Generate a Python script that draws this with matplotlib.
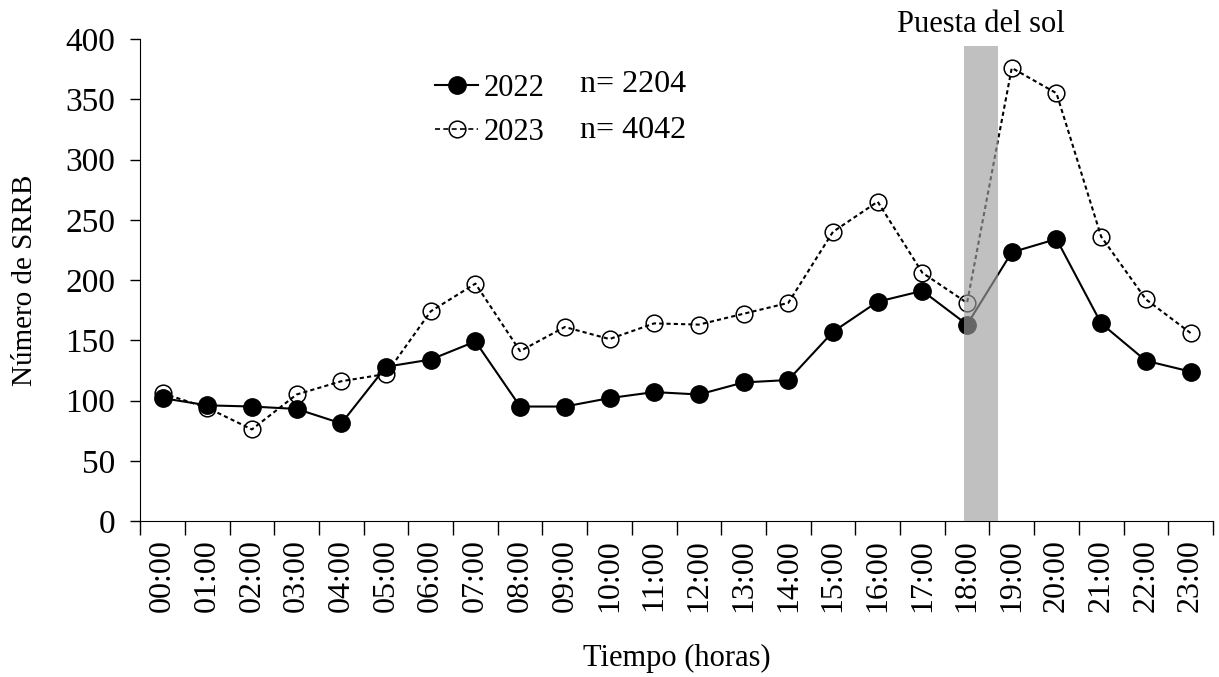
import numpy as np
import matplotlib.pyplot as plt
from matplotlib.lines import Line2D

plt.rcParams['font.family'] = ['Liberation Serif', 'DejaVu Serif']

horas = ['%02d:00' % h for h in range(24)]
serie_2022 = [102, 96, 95, 93, 81, 128, 134, 149, 95, 95, 102, 107,
              105, 115, 117, 157, 182, 191, 163, 223, 234, 164, 133, 124]
serie_2023 = [106, 94, 76, 105, 116, 122, 174, 197, 141, 161, 151, 164,
              163, 172, 181, 240, 265, 206, 181, 376, 355, 236, 184, 156]
n_2022 = 2204
n_2023 = 4042

fig = plt.figure(figsize=(12.19, 6.77), dpi=100)
ax = fig.add_axes([0.115, 0.2304, 0.88, 0.712])

x = np.arange(len(horas))

# serie 2022 (linea continua, puntos negros)
ax.plot(x, serie_2022, color='black', lw=1.5, marker='o', ms=12.5,
        mfc='black', mec='black', zorder=3)
# serie 2023 (linea discontinua, circulos abiertos)
ax.plot(x, serie_2023, color='black', lw=1.5, ls=(0, (2, 1.5)), marker='o',
        ms=12, mfc='none', mec='black', mew=1.1, zorder=2)

# franja de la puesta del sol
ax.bar(18.31, 394, width=0.76, color='#9e9e9e', alpha=0.65, zorder=4)
ax.text(18.31, 400, 'Puesta del sol', ha='center', va='bottom',
        fontsize=22, clip_on=False)

ax.set_xlim(-0.5, 23.5)
ax.set_ylim(0, 400)
ax.set_yticks(np.arange(0, 401, 50))
ax.set_xticks(x)
ax.set_xticklabels(horas, rotation=90)
ax.set_xticks(np.arange(-0.5, 24, 1), minor=True)
ax.tick_params(axis='x', which='major', length=0, pad=13, labelsize=23)
ax.tick_params(axis='x', which='minor', length=10, direction='out', width=1)
ax.tick_params(axis='y', length=7, width=1, pad=11, labelsize=24)

ax.spines['top'].set_visible(False)
ax.spines['right'].set_visible(False)

ax.set_xlabel('Tiempo (horas)', fontsize=22)
ax.set_ylabel('Número de SRRB', fontsize=21)
ax.xaxis.set_label_coords(0.5, -0.255)
ax.yaxis.set_label_coords(-0.095, 0.5)

handles = [
    Line2D([], [], color='black', lw=1.5, marker='o', ms=12.5, mfc='black'),
    Line2D([], [], color='black', lw=1.2, ls=(0, (3, 2)), marker='o',
           ms=12, mfc='none', mew=1.1),
]
ax.legend(handles, ['2022', '2023'], loc='upper left',
          bbox_to_anchor=(0.275, 0.927), frameon=False, fontsize=22,
          handlelength=1.4, handletextpad=0.2, borderpad=0,
          borderaxespad=0, labelspacing=0.48)
ax.text(0.41, 0.905, 'n= %d' % n_2022, transform=ax.transAxes,
        fontsize=23, va='center')
ax.text(0.41, 0.811, 'n= %d' % n_2023, transform=ax.transAxes,
        fontsize=23, va='center')

fig.savefig('out.png', dpi=100)
